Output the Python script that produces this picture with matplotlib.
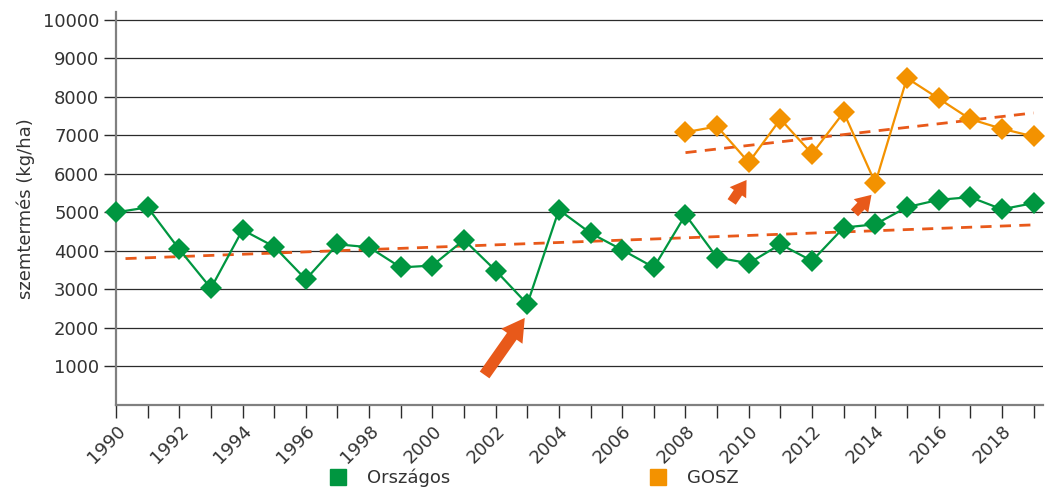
import matplotlib.pyplot as plt
from matplotlib.lines import Line2D

# yields (kg/ha)
years_orszagos = list(range(1990, 2020))
orszagos = [5000, 5130, 4040, 3030, 4545, 4110, 3260, 4170, 4095, 3570,
            3620, 4285, 3490, 2620, 5065, 4460, 4025, 3570, 4935, 3825,
            3680, 4170, 3740, 4605, 4690, 5135, 5325, 5395, 5080, 5240]

years_gosz = list(range(2008, 2020))
gosz = [7080, 7230, 6295, 7420, 6520, 7595, 5760, 8485, 7955, 7420, 7170, 6970]

# trend lines as drawn in the original (start/end)
trend_orszagos_x = [1990.3, 2019]
trend_orszagos_y = [3800, 4675]
trend_gosz_x = [2008, 2019]
trend_gosz_y = [6550, 7580]

# arrows: (tail x, tail y, head x, head y, big?)
arrows = [
    (2001.65, 780, 2002.92, 2260, True),
    (2009.46, 5270, 2009.93, 5840, False),
    (2013.34, 4985, 2013.88, 5455, False),
]

GREEN = '#009640'
ORANGE = '#f39200'
TREND = '#e8591a'
TEXT = '#333333'

fig = plt.figure(figsize=(10.51, 4.9), dpi=100)
ax = fig.add_axes([116 / 1051, 1 - 405 / 490, (1043 - 116) / 1051, (405 - 12) / 490])

# grid
for v in range(1000, 10001, 1000):
    ax.axhline(v, color='#2b2b2b', lw=0.9, zorder=1)

ax.plot(trend_orszagos_x, trend_orszagos_y, ls=(0, (4, 3)), color=TREND, lw=2, zorder=2)
ax.plot(trend_gosz_x, trend_gosz_y, ls=(0, (4, 3)), color=TREND, lw=2, zorder=2)

ax.plot(years_orszagos, orszagos, color=GREEN, lw=1.6, marker='D', ms=11,
        markeredgewidth=0, zorder=3, clip_on=False)
ax.plot(years_gosz, gosz, color=ORANGE, lw=1.6, marker='D', ms=11,
        markeredgewidth=0, zorder=3, clip_on=False)

for tx, ty, hx, hy, big in arrows:
    if big:
        style = 'simple,head_width=1.1,head_length=0.95,tail_width=0.5'
        ms = 17
    else:
        style = 'simple,head_width=1.1,head_length=0.85,tail_width=0.55'
        ms = 13
    ax.annotate('', xy=(hx, hy), xytext=(tx, ty),
                arrowprops=dict(arrowstyle=style, color=TREND, lw=0,
                                shrinkA=0, shrinkB=0, mutation_scale=ms), zorder=4)

ax.set_xlim(1990, 2019.3)
ax.set_ylim(0, 10200)

ax.set_yticks(range(1000, 10001, 1000))
ax.set_yticklabels([str(v) for v in range(1000, 10001, 1000)], fontsize=13, color=TEXT)
ax.set_xticks(range(1990, 2020))
ax.set_xticklabels([str(y) if y % 2 == 0 else '' for y in range(1990, 2020)],
                   rotation=45, ha='right', rotation_mode='anchor', fontsize=13, color=TEXT)
ax.tick_params(axis='y', length=9, width=1, color='#2b2b2b', pad=3)
ax.tick_params(axis='x', length=9, width=1, color='#2b2b2b', pad=3)

for s in ['top', 'right']:
    ax.spines[s].set_visible(False)
for s in ['left', 'bottom']:
    ax.spines[s].set_color('#808080')
    ax.spines[s].set_linewidth(1.6)

ax.set_ylabel('szemtermés (kg/ha)', fontsize=13, labelpad=6, color=TEXT)

handles = [
    Line2D([0], [0], marker='s', ls='none', color=GREEN, ms=11, label='Országos'),
    Line2D([0], [0], marker='s', ls='none', color=ORANGE, ms=11, label='GOSZ'),
]
fig.legend(handles=handles, loc='center', bbox_to_anchor=(529 / 1051, 1 - 478 / 490),
           ncol=2, frameon=False, fontsize=13, columnspacing=10.5, handletextpad=0.6,
           labelcolor=TEXT)

fig.savefig('out.png', dpi=100)
